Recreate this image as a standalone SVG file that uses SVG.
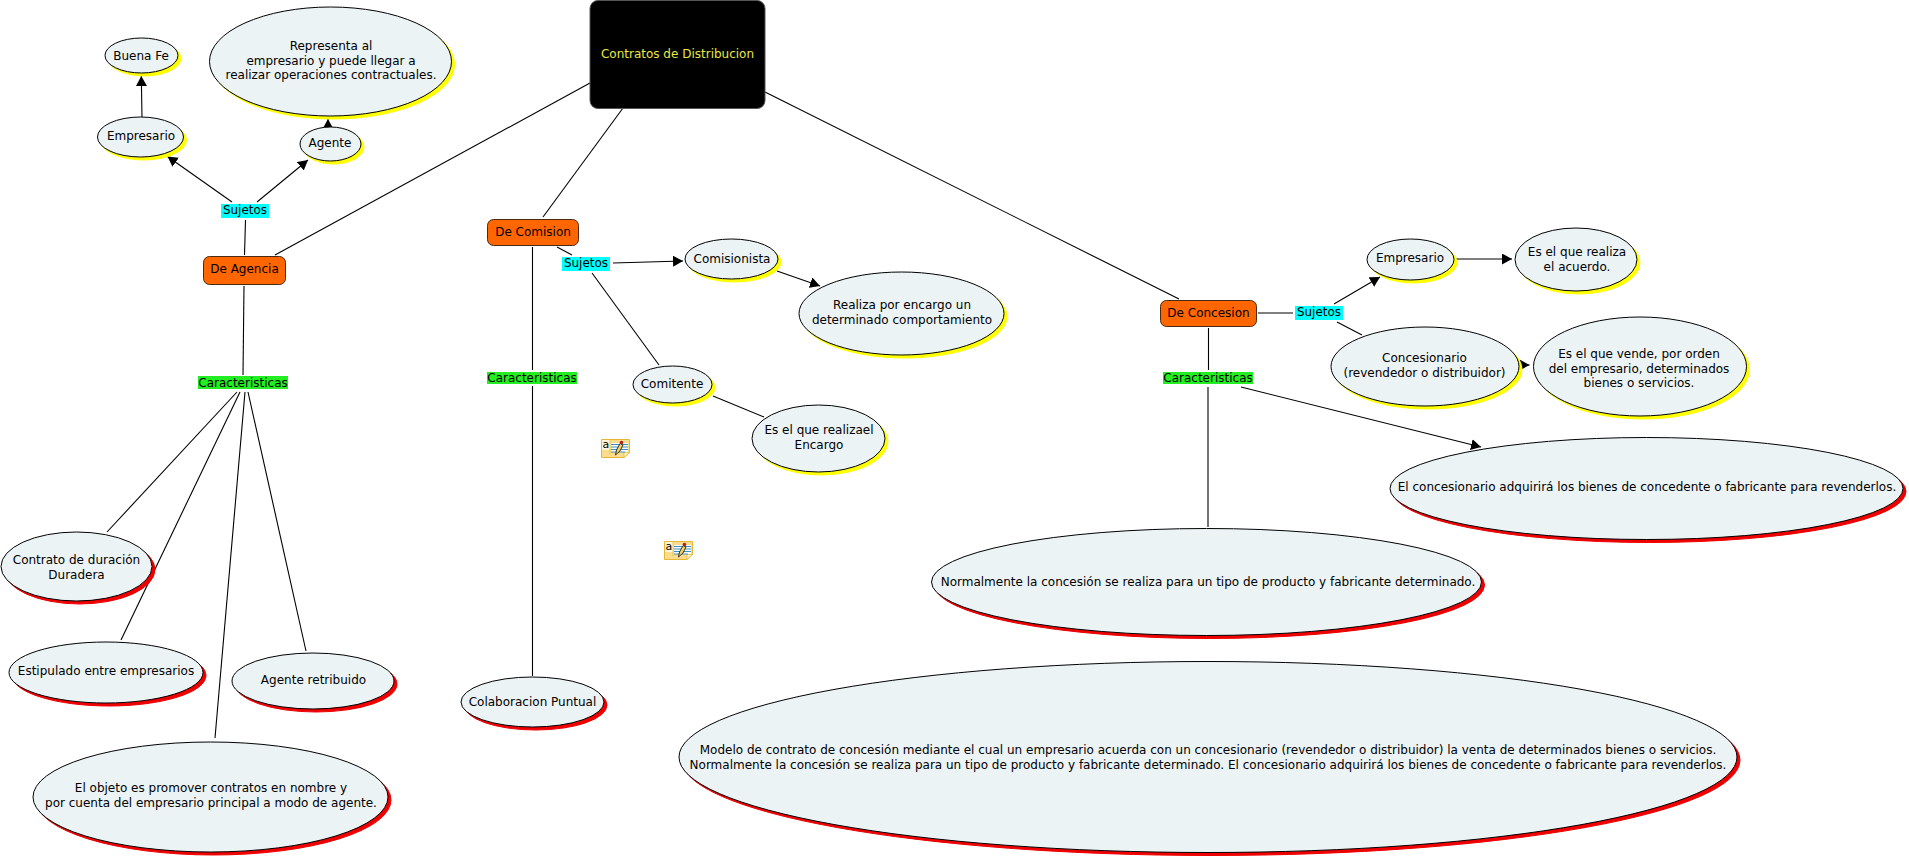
<svg xmlns="http://www.w3.org/2000/svg" width="1909" height="860" viewBox="0 0 1909 860">
<style>
text{font-family:"DejaVu Sans",Verdana,sans-serif;font-size:12px;text-anchor:middle;fill:#000}
.e{fill:#ECF3F5;stroke:#000;stroke-width:1}
.sy{fill:#FFFF00;stroke:#FFFF00;stroke-width:1}
.sr{fill:#EE0000;stroke:#EE0000;stroke-width:1}
.o{fill:#FF6600;stroke:#4a2a10;stroke-width:1}
.c{fill:none;stroke:#000;stroke-width:1.1}
.a{marker-end:url(#ah)}
.lb{fill:#00FFFF}
.lg{fill:#22EE22}
</style>
<defs>
<marker id="ah" markerUnits="userSpaceOnUse" markerWidth="12" markerHeight="12" refX="10" refY="5.5" orient="auto"><path d="M0,0L10,5.5L0,11Z" fill="#000"/></marker>
<g id="note">
<path d="M0.500,0.500H28.500V13.500L23,18.500H0.500Z" fill="#FBDC8C" stroke="#E6B735"/>
<path d="M23,18.500V13.500H28.500Z" fill="#FFF3C8" stroke="#E6B735" stroke-width="0.7"/>
<rect x="1" y="1" width="8" height="10" fill="#FFF6D8"/>
<line x1="9" y1="1" x2="9" y2="15" stroke="#E6B735" stroke-width="0.7"/>
<text x="4.800" y="9" style="font-size:11px">a</text>
<rect x="10" y="4" width="17" height="9" fill="#fff"/>
<path d="M10,5.500H27M10,8H27M10,10.500H27M10,13H24" stroke="#3C8FC0" fill="none"/>
<path d="M14.500,16L15.500,11L19,4.500L22,6L19,12Z" fill="#F0D060" stroke="#222" stroke-width="0.9"/>
<circle cx="20.500" cy="3.500" r="1.800" fill="#B02020"/>
</g>
</defs>
<g id="connectors">
<path class="c" d="M590,83L275,255"/>
<path class="c" d="M245.500,220L244.500,255"/>
<path class="c a" d="M232,202L167.500,156.500"/>
<path class="c a" d="M257,202L308,160"/>
<path class="c a" d="M142,117L141.300,76"/>
<path class="c a" d="M328,128L328,119"/>
<path class="c" d="M244,286L243,375"/>
<path class="c" d="M237,392L107,532"/>
<path class="c" d="M240,392L121,640"/>
<path class="c" d="M245,392L215,738"/>
<path class="c" d="M248,392L306,651"/>
<path class="c" d="M623,108L543,217"/>
<path class="c" d="M557,247L572,255"/>
<path class="c" d="M532.500,247V370"/>
<path class="c" d="M532.500,386V676"/>
<path class="c a" d="M613,263L683,261"/>
<path class="c" d="M592,273L659,365"/>
<path class="c a" d="M777,271L820,286"/>
<path class="c" d="M713,396L764,417"/>
<path class="c" d="M765,92L1179,299"/>
<path class="c" d="M1258,313H1293"/>
<path class="c a" d="M1334,304L1380,277"/>
<path class="c" d="M1337,322L1362,335"/>
<path class="c a" d="M1456,259H1512"/>
<path class="c a" d="M1520,365H1529.500"/>
<path class="c" d="M1208.500,328V370"/>
<path class="c" d="M1208,387L1208,527"/>
<path class="c a" d="M1241,387L1481,447"/>
</g>
<g id="n-root"><rect x="590" y="0.500" width="175" height="108" rx="8" fill="#000" stroke="#555"/><text x="677.500" y="58" style="fill:#E8E840">Contratos de Distribucion</text></g>
<g id="n-agencia"><rect class="o" x="203.500" y="256.500" width="82" height="28" rx="6"/><text x="244.500" y="273">De Agencia</text></g>
<g id="n-comision"><rect class="o" x="487.500" y="219.500" width="91" height="26" rx="6"/><text x="533" y="236">De Comision</text></g>
<g id="n-concesion"><rect class="o" x="1160.500" y="300.500" width="96" height="26" rx="6"/><text x="1208.500" y="317">De Concesion</text></g>
<g id="n-suj1"><rect class="lb" x="221" y="204" width="48" height="14"/><text x="245" y="214">Sujetos</text></g>
<g id="n-suj2"><rect class="lb" x="562" y="257" width="48" height="14"/><text x="586" y="267">Sujetos</text></g>
<g id="n-suj3"><rect class="lb" x="1295" y="306" width="48" height="14"/><text x="1319" y="316">Sujetos</text></g>
<g id="n-car1"><rect class="lg" x="198" y="376" width="90" height="13"/><text x="243" y="387">Caracteristicas</text></g>
<g id="n-car2"><rect class="lg" x="487" y="372" width="90" height="12"/><text x="532" y="382">Caracteristicas</text></g>
<g id="n-car3"><rect class="lg" x="1163" y="372" width="90" height="12"/><text x="1208" y="382">Caracteristicas</text></g>
<g id="n-buena"><ellipse class="sy" cx="144.500" cy="58.500" rx="36.500" ry="17.500"/><ellipse class="e" cx="141.500" cy="55.500" rx="36.500" ry="17.500"/><text x="141" y="60">Buena Fe</text></g>
<g id="n-representa"><ellipse class="sy" cx="333.500" cy="64.500" rx="121" ry="54.500"/><ellipse class="e" cx="330.500" cy="61.500" rx="121" ry="54.500"/><text x="331" y="50">Representa al</text><text x="331" y="65">empresario y puede llegar a</text><text x="331" y="79">realizar operaciones contractuales.</text></g>
<g id="n-empresario"><ellipse class="sy" cx="143.500" cy="140" rx="43" ry="20"/><ellipse class="e" cx="140.500" cy="137" rx="43" ry="20"/><text x="141" y="140">Empresario</text></g>
<g id="n-agente"><ellipse class="sy" cx="333.500" cy="147" rx="30.500" ry="17"/><ellipse class="e" cx="330.500" cy="144" rx="30.500" ry="17"/><text x="330" y="147">Agente</text></g>
<g id="n-contrato"><ellipse class="sr" cx="79.500" cy="569.500" rx="75.500" ry="34.500"/><ellipse class="e" cx="76.500" cy="566.500" rx="75.500" ry="34.500"/><text x="76.500" y="564">Contrato de duración</text><text x="76.500" y="578.500">Duradera</text></g>
<g id="n-estipulado"><ellipse class="sr" cx="109" cy="675.500" rx="97" ry="30.500"/><ellipse class="e" cx="106" cy="672.500" rx="97" ry="30.500"/><text x="106" y="675">Estipulado entre empresarios</text></g>
<g id="n-retribuido"><ellipse class="sr" cx="316" cy="684" rx="81" ry="28"/><ellipse class="e" cx="313" cy="681" rx="81" ry="28"/><text x="313.500" y="684">Agente retribuido</text></g>
<g id="n-objeto"><ellipse class="sr" cx="213.500" cy="800" rx="177.500" ry="55"/><ellipse class="e" cx="210.500" cy="797" rx="177.500" ry="55"/><text x="211" y="792">El objeto es promover contratos en nombre y</text><text x="211" y="807">por cuenta del empresario principal a modo de agente.</text></g>
<g id="n-colab"><ellipse class="sr" cx="535.500" cy="705" rx="71.500" ry="25"/><ellipse class="e" cx="532.500" cy="702" rx="71.500" ry="25"/><text x="532.500" y="706">Colaboracion Puntual</text></g>
<g id="n-comisionista"><ellipse class="sy" cx="734.500" cy="262" rx="46.500" ry="20"/><ellipse class="e" cx="731.500" cy="259" rx="46.500" ry="20"/><text x="732" y="263">Comisionista</text></g>
<g id="n-realiza"><ellipse class="sy" cx="904.500" cy="316.500" rx="102.500" ry="41.500"/><ellipse class="e" cx="901.500" cy="313.500" rx="102.500" ry="41.500"/><text x="902" y="309">Realiza por encargo un</text><text x="902" y="324">determinado comportamiento</text></g>
<g id="n-comitente"><ellipse class="sy" cx="675.500" cy="387.500" rx="39.500" ry="18.500"/><ellipse class="e" cx="672.500" cy="384.500" rx="39.500" ry="18.500"/><text x="672" y="388">Comitente</text></g>
<g id="n-esencargo"><ellipse class="sy" cx="821.500" cy="441.500" rx="66.500" ry="33.500"/><ellipse class="e" cx="818.500" cy="438.500" rx="66.500" ry="33.500"/><text x="819" y="434">Es el que realizael</text><text x="819" y="449">Encargo</text></g>
<g id="n-empresario2"><ellipse class="sy" cx="1413.500" cy="262.500" rx="43.500" ry="20.500"/><ellipse class="e" cx="1410.500" cy="259.500" rx="43.500" ry="20.500"/><text x="1410" y="262">Empresario</text></g>
<g id="n-acuerdo"><ellipse class="sy" cx="1579" cy="262.500" rx="61" ry="31.500"/><ellipse class="e" cx="1576" cy="259.500" rx="61" ry="31.500"/><text x="1577" y="256">Es el que realiza</text><text x="1577" y="271">el acuerdo.</text></g>
<g id="n-concesionario"><ellipse class="sy" cx="1428" cy="369.500" rx="94" ry="39.500"/><ellipse class="e" cx="1425" cy="366.500" rx="94" ry="39.500"/><text x="1424.500" y="362">Concesionario</text><text x="1424.500" y="377">(revendedor o distribuidor)</text></g>
<g id="n-vende"><ellipse class="sy" cx="1643" cy="369.500" rx="106.500" ry="49.500"/><ellipse class="e" cx="1640" cy="366.500" rx="106.500" ry="49.500"/><text x="1639" y="358">Es el que vende, por orden</text><text x="1639" y="373">del empresario, determinados</text><text x="1639" y="387">bienes o servicios.</text></g>
<g id="n-adquirira"><ellipse class="sr" cx="1649.500" cy="491.500" rx="256.500" ry="51"/><ellipse class="e" cx="1646.500" cy="488.500" rx="256.500" ry="51"/><text x="1647" y="491">El concesionario adquirirá los bienes de concedente o fabricante para revenderlos.</text></g>
<g id="n-normalmente"><ellipse class="sr" cx="1209.500" cy="585" rx="275" ry="53.500"/><ellipse class="e" cx="1206.500" cy="582" rx="275" ry="53.500"/><text x="1208" y="586">Normalmente la concesión se realiza para un tipo de producto y fabricante determinado.</text></g>
<g id="n-modelo"><ellipse class="sr" cx="1211" cy="760" rx="529" ry="95.500"/><ellipse class="e" cx="1208" cy="757" rx="529" ry="95.500"/><text x="1208" y="754">Modelo de contrato de concesión mediante el cual un empresario acuerda con un concesionario (revendedor o distribuidor) la venta de determinados bienes o servicios.</text><text x="1208" y="768.500">Normalmente la concesión se realiza para un tipo de producto y fabricante determinado. El concesionario adquirirá los bienes de concedente o fabricante para revenderlos.</text></g>
<use href="#note" x="601" y="439"/>
<use href="#note" x="664" y="541"/>
</svg>
